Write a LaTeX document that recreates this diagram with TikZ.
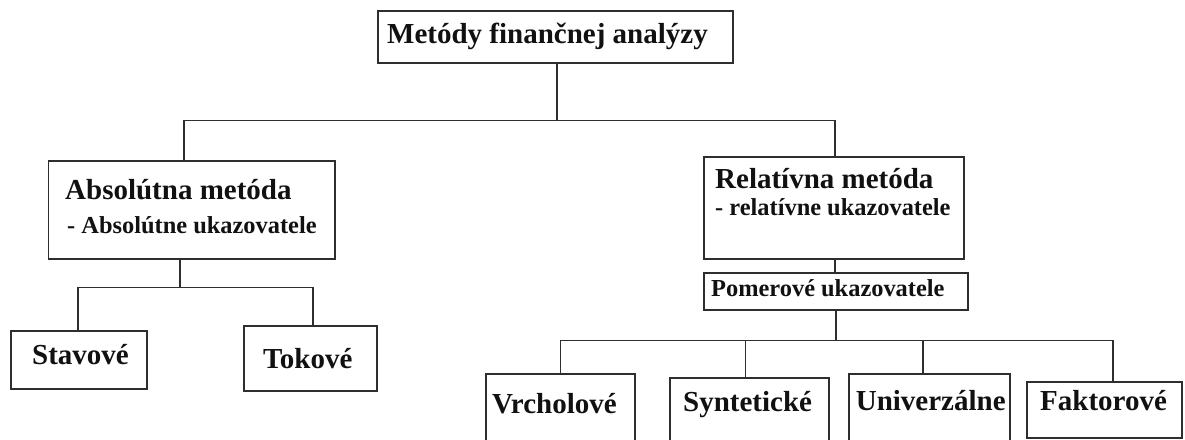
\documentclass[tikz,border=0pt]{standalone}
\usepackage{fontspec}
\setmainfont{Liberation Serif}
\definecolor{linec}{HTML}{2E2E2E}
\definecolor{txtc}{HTML}{111111}
\begin{document}
\begin{tikzpicture}[x=1pt,y=-1pt,
  box/.style={draw=linec, line width=1.2pt, rectangle, inner sep=0pt},
  lbl/.style={font=\bfseries\fontsize{29}{32}\selectfont, text=txtc, inner sep=0pt, anchor=base west},
  sublbl/.style={font=\bfseries\fontsize{24.4}{27}\selectfont, text=txtc, inner sep=0pt, anchor=base west},
  conn/.style={draw=linec, line width=1.2pt}]
\clip (0,0) rectangle (1185,439);
\fill[white] (0,0) rectangle (1185,439);
% boxes
\node[box, minimum width=355pt, minimum height=52pt] (top) at (555.5,37) {};
\node[box, minimum width=286.4pt, minimum height=98pt] (abs) at (191.8,210) {};
\node[box, minimum width=260pt, minimum height=102pt] (rel) at (834,208) {};
\node[box, minimum width=264pt, minimum height=37pt] (pom) at (836,291.5) {};
\node[box, minimum width=136pt, minimum height=58pt] (stav) at (79,360) {};
\node[box, minimum width=133pt, minimum height=65pt] (tok) at (310.5,358.5) {};
\node[box, minimum width=149pt, minimum height=96pt] (vrch) at (560.5,422) {};
\node[box, minimum width=159pt, minimum height=92pt] (synt) at (749.5,424) {};
\node[box, minimum width=161pt, minimum height=96pt] (univ) at (929.5,422) {};
\node[box, minimum width=155pt, minimum height=56pt] (fakt) at (1104.5,410) {};
% texts
\node[lbl] (topT) at (387,43) {Metódy finančnej analýzy};
\node[lbl] (absT) at (65,199) {Absolútna metóda};
\node[sublbl] (absS) at (67,233) {- Absolútne ukazovatele};
\node[lbl] (relT) at (715,188) {Relatívna metóda};
\node[sublbl] (relS) at (715,215) {- relatívne ukazovatele};
\node[sublbl] (pomT) at (711,296) {Pomerové ukazovatele};
\node[lbl] (stavT) at (32,364) {Stavové};
\node[lbl] (tokT) at (263,368) {Tokové};
\node[lbl] (vrchT) at (492,413) {Vrcholové};
\node[lbl] (syntT) at (683,411.5) {Syntetické};
\node[lbl] (univT) at (855.6,410) {Univerzálne};
\node[lbl] (faktT) at (1040,410) {Faktorové};
% connectors
\draw[conn] ([xshift=1.5pt]top.south) -- ++(0,57) -| ([xshift=-7.8pt]abs.north);
\draw[conn] ([xshift=1.5pt]top.south) ++(0,57) -| ([xshift=1pt]rel.north);
\draw[conn] ([xshift=-11.8pt]abs.south) -- ++(0,28) -| ([xshift=-1pt]stav.north);
\draw[conn] ([xshift=-11.8pt]abs.south) ++(0,28) -| ([xshift=2.5pt]tok.north);
\draw[conn] ([xshift=1pt]rel.south) -- ([xshift=1pt]rel.south |- pom.north);
\draw[conn] (pom.south) -- ++(0,30) -| (vrch.north);
\draw[conn] (pom.south) ++(0,30) -| ([xshift=-4pt]synt.north);
\draw[conn] (pom.south) ++(0,30) -| ([xshift=-6.5pt]univ.north);
\draw[conn] (pom.south) ++(0,30) -| ([xshift=8.5pt]fakt.north);
\end{tikzpicture}
\end{document}
